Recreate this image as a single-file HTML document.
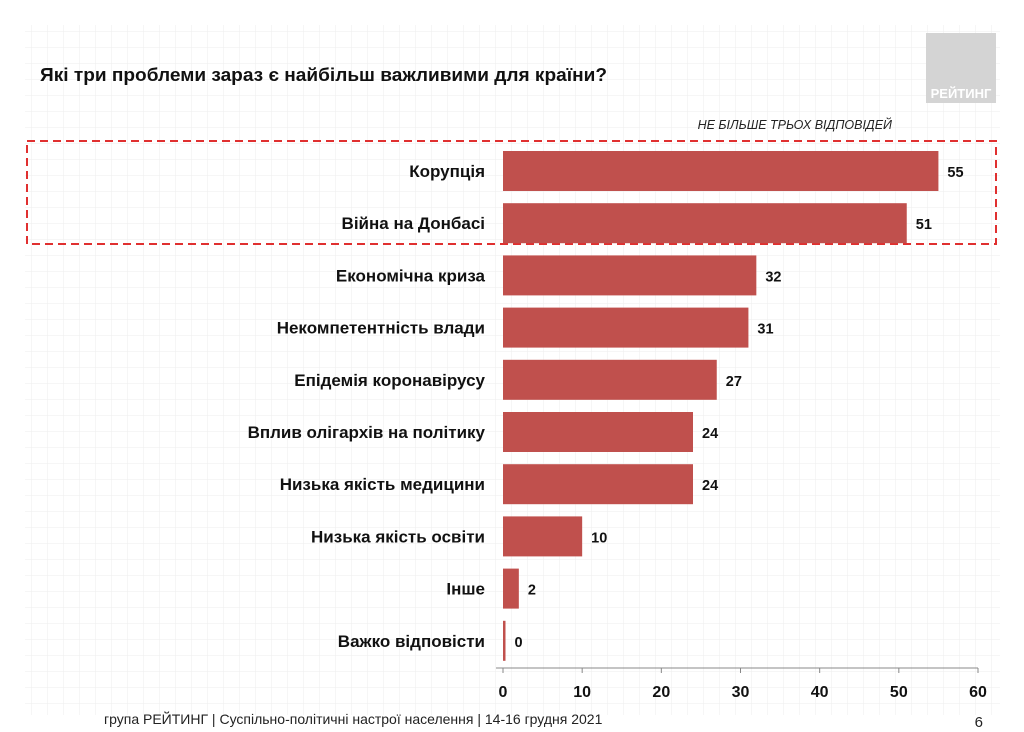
<!DOCTYPE html>
<html><head><meta charset="utf-8"><style>
body{margin:0;width:1024px;height:732px;overflow:hidden;background:#fff;font-family:"Liberation Sans",sans-serif}
svg{display:block}
text{font-family:"Liberation Sans","Noto Sans CJK SC",sans-serif}
</style></head><body>
<svg id="c" width="1024" height="732" viewBox="0 0 1024 732">
<defs><pattern id="g" width="16" height="16" patternUnits="userSpaceOnUse"><path d="M16 0V16H0" fill="none" stroke="#eee" stroke-width="1"/></pattern></defs>
<rect width="1024" height="732" fill="#fff"/>
<rect x="25" y="25" width="975" height="690" fill="url(#g)"/>
<text x="40" y="81" font-size="18" font-weight="bold" fill="#111" textLength="567" lengthAdjust="spacingAndGlyphs">Які три проблеми зараз є найбільш важливими для країни?</text>
<rect x="926" y="33" width="70" height="70" fill="#d4d4d4"/>
<text x="961" y="98" font-size="13" font-weight="bold" fill="#fff" text-anchor="middle">РЕЙТИНГ</text>
<text x="892" y="129" font-size="12.5" font-style="italic" fill="#222" text-anchor="end">НЕ БІЛЬШЕ ТРЬОХ ВІДПОВІДЕЙ</text>
<rect x="27" y="141" width="969" height="103" fill="none" stroke="#e03030" stroke-width="2" stroke-dasharray="8,5"/>
<g id="bars"></g>
<line x1="496" y1="668" x2="978" y2="668" stroke="#888"/>
<g id="ticks"></g>
<text x="104" y="724" font-size="14" fill="#222">група РЕЙТИНГ | Суспільно-політичні настрої населення | 14-16 грудня 2021</text>
<text x="983" y="727" font-size="15" fill="#222" text-anchor="end">6</text>
</svg>
<script>
const categories=["Корупція","Війна на Донбасі","Економічна криза","Некомпетентність влади","Епідемія коронавірусу","Вплив олігархів на політику","Низька якість медицини","Низька якість освіти","Інше","Важко відповісти"];
const values=[55,51,32,31,27,24,24,10,2,0];
const tickLabels=[0,10,20,30,40,50,60];
const NS="http://www.w3.org/2000/svg";
const x=v=>503+v*(475/60);
const yc=i=>171+i*52.2;
function mk(tag,attrs,parent,txt){const e=document.createElementNS(NS,tag);for(const k in attrs)e.setAttribute(k,attrs[k]);if(txt!==undefined)e.textContent=txt;parent.appendChild(e);return e;}
const gb=document.getElementById('bars'),gt=document.getElementById('ticks');
categories.forEach((c,i)=>{
  const w=Math.max(x(values[i])-x(0),2.5);
  const r=mk('rect',{x:x(0),y:yc(i)-20,width:w,height:40,fill:'#c0504d'},gb);
  
  
  const l=mk('text',{x:485,y:yc(i)+6,'font-size':17,'font-weight':'bold','text-anchor':'end',fill:'#111'},gb,c);
  
  
  const v=mk('text',{x:x(0)+w+9,y:yc(i)+6,'font-size':14.5,'font-weight':'bold',fill:'#111'},gb,values[i]);
  
  
});
tickLabels.forEach(t=>{
  const ln=mk('line',{x1:x(t),x2:x(t),y1:668,y2:673,stroke:'#888'},gt);
  
  
  const tx=mk('text',{x:x(t),y:697,'font-size':16,'font-weight':'bold','text-anchor':'middle',fill:'#111'},gt,t);
  
  
});
</script>
</body></html>
